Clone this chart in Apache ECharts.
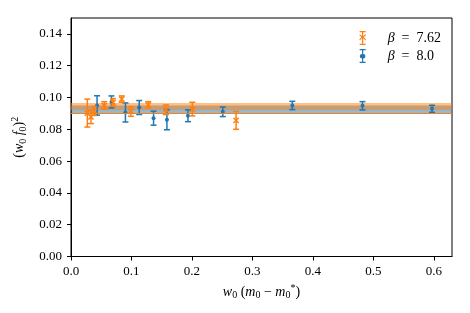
<!DOCTYPE html>
<html>
<head>
<meta charset="utf-8">
<script src="https://cdn.jsdelivr.net/npm/echarts@6/dist/echarts.min.js"></script>
<style>html,body{margin:0;padding:0;background:#fff}#c{width:470px;height:313px}</style>
</head>
<body>
<div id="c"></div>
<script>
// ---- data ----
var orangeX = [0.027, 0.033, 0.038, 0.055, 0.0696, 0.084, 0.099, 0.1277, 0.157, 0.2006, 0.273];
var orangeY = [0.0902, 0.0878, 0.0915, 0.0950, 0.0969, 0.0990, 0.0912, 0.0954, 0.0923, 0.0927, 0.0856];
var orangeErr = [0.0088, 0.0042, 0.0028, 0.0024, 0.0024, 0.0020, 0.0030, 0.0020, 0.0030, 0.0043, 0.0056];
var blueX = [0.0431, 0.0669, 0.0900, 0.1128, 0.1365, 0.1586, 0.1934, 0.2510, 0.3660, 0.4820, 0.5970];
var blueY = [0.0950, 0.0972, 0.0906, 0.0937, 0.0870, 0.0860, 0.0885, 0.0910, 0.0950, 0.0948, 0.0929];
var blueErr = [0.0061, 0.0038, 0.0060, 0.0044, 0.0044, 0.0063, 0.0037, 0.0030, 0.0026, 0.0026, 0.0022];
var orangeFit = 0.0943, orangeFitErr = 0.0023;
var blueFit = 0.0926, blueFitErr = 0.0024;
var xTicks = [0, 0.1, 0.2, 0.3, 0.4, 0.5, 0.6];
var yTicks = [0, 0.02, 0.04, 0.06, 0.08, 0.10, 0.12, 0.14];
var seriesNames = ['β = 7.62', 'β = 8.0'];

var ORANGE = '#ff7f0e', BLUE = '#1f77b4';
var FONT = "'Liberation Serif', 'DejaVu Serif', serif";

function build(xs, ys, es) {
  return xs.map(function (x, i) { return [x, ys[i], es[i]]; });
}

function makeRender(color, marker) {
  return function (params, api) {
    var x = api.value(0), y = api.value(1), e = api.value(2);
    var c = api.coord([x, y]);
    var lo = api.coord([x, y - e]);
    var hi = api.coord([x, y + e]);
    var cw = 3;
    var st = { stroke: color, lineWidth: 1.5 };
    var ch = [
      { type: 'line', shape: { x1: c[0], y1: lo[1], x2: c[0], y2: hi[1] }, style: st },
      { type: 'line', shape: { x1: c[0] - cw, y1: lo[1], x2: c[0] + cw, y2: lo[1] }, style: st },
      { type: 'line', shape: { x1: c[0] - cw, y1: hi[1], x2: c[0] + cw, y2: hi[1] }, style: st }
    ];
    if (marker === 'x') {
      var m = 2.6;
      ch.push({ type: 'line', shape: { x1: c[0] - m, y1: c[1] - m, x2: c[0] + m, y2: c[1] + m }, style: { stroke: color, lineWidth: 1.5 } });
      ch.push({ type: 'line', shape: { x1: c[0] - m, y1: c[1] + m, x2: c[0] + m, y2: c[1] - m }, style: { stroke: color, lineWidth: 1.5 } });
    } else {
      ch.push({ type: 'circle', shape: { cx: c[0], cy: c[1], r: 2 }, style: { fill: color } });
    }
    return { type: 'group', children: ch };
  };
}

var xIcon = 'path://M4,0 H10 V1.2 H7.6 V5.2 L9.6,3.2 L10.4,4 L8.2,6.2 H8.2 L10.4,8.4 L9.6,9.2 L7.6,7.2 V12.8 H10 V14 H4 V12.8 H6.4 V7.2 L4.4,9.2 L3.6,8.4 L5.8,6.2 L3.6,4 L4.4,3.2 L6.4,5.2 V1.2 H4 Z';
var dotIcon = 'path://M4,0 H10 V1.2 H7.6 V5 A2.2,2.2 0 0 1 7.6,9.4 V12.8 H10 V14 H4 V12.8 H6.4 V9.4 A2.2,2.2 0 0 1 6.4,5 V1.2 H4 Z';

var chart = echarts.init(document.getElementById('c'), null, { renderer: 'canvas' });
chart.setOption({
  animation: false,
  backgroundColor: '#fff',
  textStyle: { fontFamily: FONT },
  grid: { left: 71, right: 18, top: 18, bottom: 56.5, show: true, borderColor: '#000', borderWidth: 1, backgroundColor: 'transparent' },
  legend: {
    right: 24, top: 26, orient: 'vertical', itemWidth: 40, itemHeight: 14, itemGap: 4,
    data: [{ name: seriesNames[0], icon: xIcon, itemStyle: { color: ORANGE } },
           { name: seriesNames[1], icon: dotIcon, itemStyle: { color: BLUE } }],
    textStyle: { fontFamily: FONT, fontSize: 14, color: '#000',
      rich: { i: { fontStyle: 'italic', fontSize: 14, fontFamily: FONT }, n: { fontSize: 14, fontFamily: FONT } } },
    formatter: function (name) {
      var parts = name.split(' = ');
      return '{i|' + parts[0] + '}{n|\u2002=\u2002' + parts[1] + '}';
    }
  },
  xAxis: {
    type: 'value', min: 0, max: 0.63,
    name: '{i|w}{s|0}{n| (}{i|m}{s|0}{n| − }{i|m}{s|0}{p|*}{n|)}',
    nameLocation: 'middle', nameGap: 19,
    nameTextStyle: { color: '#000', fontFamily: FONT, fontSize: 14,
      rich: { i: { fontStyle: 'italic', fontSize: 14, lineHeight: 17, fontFamily: FONT },
              n: { fontSize: 14, lineHeight: 17, fontFamily: FONT },
              s: { fontSize: 10, lineHeight: 10, verticalAlign: 'bottom', fontFamily: FONT },
              p: { fontSize: 10, lineHeight: 10, verticalAlign: 'top', fontFamily: FONT } } },
    axisLine: { show: true, onZero: false, lineStyle: { color: '#000', width: 1 } },
    axisTick: { show: true, length: 4, inside: false, lineStyle: { color: '#000' }, customValues: xTicks },
    axisLabel: { color: '#000', fontSize: 13, fontFamily: FONT, margin: 9, customValues: xTicks,
      formatter: function (v) { return v.toFixed(1); } },
    splitLine: { show: false }
  },
  yAxis: {
    type: 'value', min: 0, max: 0.15,
    name: '{n|(}{i|w}{s|0}{n| }{i|f}{s|0}{n|)}{p|2}',
    nameLocation: 'middle', nameGap: 33,
    nameTextStyle: { color: '#000', fontFamily: FONT, fontSize: 14,
      rich: { i: { fontStyle: 'italic', fontSize: 14, lineHeight: 18, fontFamily: FONT },
              n: { fontSize: 14, lineHeight: 18, fontFamily: FONT },
              s: { fontSize: 10, lineHeight: 10, verticalAlign: 'bottom', fontFamily: FONT },
              p: { fontSize: 10, lineHeight: 10, verticalAlign: 'top', fontFamily: FONT } } },
    axisLine: { show: true, onZero: false, lineStyle: { color: '#000', width: 1 } },
    axisTick: { show: true, length: 4, inside: false, lineStyle: { color: '#000' }, customValues: yTicks },
    axisLabel: { color: '#000', fontSize: 13, fontFamily: FONT, margin: 9, customValues: yTicks,
      formatter: function (v) { return v.toFixed(2); } },
    splitLine: { show: false }
  },
  series: [
    {
      name: seriesNames[1], type: 'custom', renderItem: makeRender(BLUE, 'dot'),
      data: build(blueX, blueY, blueErr), encode: { x: 0, y: 1 }, z: 3,
      itemStyle: { color: BLUE },
      markArea: { silent: true, itemStyle: { color: BLUE, opacity: 0.5 },
        data: [[{ yAxis: blueFit - blueFitErr }, { yAxis: blueFit + blueFitErr }]] },
      markLine: { silent: true, symbol: 'none', label: { show: false }, lineStyle: { color: BLUE, width: 1, type: 'solid' },
        data: [{ yAxis: blueFit }] }
    },
    {
      name: seriesNames[0], type: 'custom', renderItem: makeRender(ORANGE, 'x'),
      data: build(orangeX, orangeY, orangeErr), encode: { x: 0, y: 1 }, z: 4,
      itemStyle: { color: ORANGE },
      markArea: { silent: true, itemStyle: { color: ORANGE, opacity: 0.5 },
        data: [[{ yAxis: orangeFit - orangeFitErr }, { yAxis: orangeFit + orangeFitErr }]] },
      markLine: { silent: true, symbol: 'none', label: { show: false }, lineStyle: { color: ORANGE, width: 1, type: 'solid' },
        data: [{ yAxis: orangeFit }] }
    }
  ]
});
</script>
</body>
</html>
